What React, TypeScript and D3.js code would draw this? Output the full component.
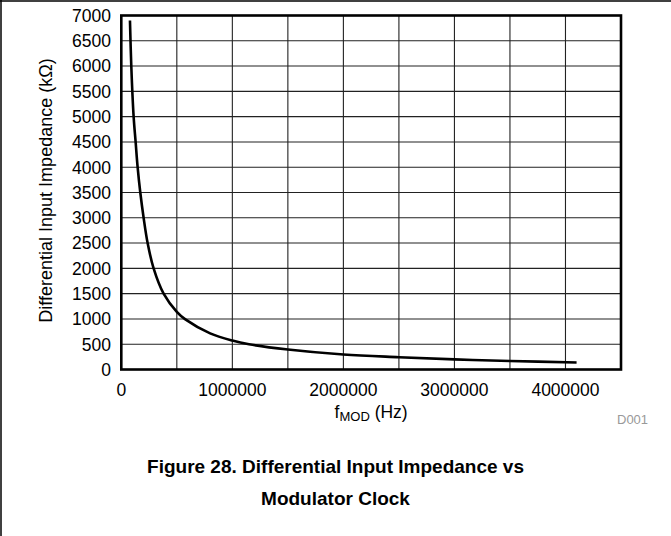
import React from "react";
import * as d3 from "d3";

const freqHz = [78000, 90000, 111000, 129000, 147000, 171000, 201000, 237000, 291000, 381000, 500000, 577000, 800000, 1000000, 1150000, 1500000, 2000000, 2500000, 3000000, 3500000, 4100000];
const impedanceK = [6900, 6000, 5000, 4500, 4000, 3500, 3000, 2500, 2000, 1500, 1140, 990, 715, 573, 500, 395, 296, 243, 200, 168, 138];
const xTickLabels = [0, 1000000, 2000000, 3000000, 4000000];
const yTicks = [0, 500, 1000, 1500, 2000, 2500, 3000, 3500, 4000, 4500, 5000, 5500, 6000, 6500, 7000];
const xGrid = [500000, 1000000, 1500000, 2000000, 2500000, 3000000, 3500000, 4000000];

const W = 671;
const H = 536;
const FONT = "'Liberation Sans', Arial, Helvetica, sans-serif";

export default function App() {
  const x = d3.scaleLinear().domain([0, 4500000]).range([121.3, 621]);
  const y = d3.scaleLinear().domain([0, 7000]).range([369.5, 15.5]);
  const pts = freqHz.map((f, i) => [f, impedanceK[i]] as [number, number]);
  const line = d3
    .line<[number, number]>()
    .x((d) => x(d[0]))
    .y((d) => y(d[1]))
    .curve(d3.curveCatmullRom.alpha(0.5));

  const [x0, x1] = x.range();
  const [y0, y1] = y.range();

  return (
    <svg
      width={W}
      height={H}
      style={{ position: "absolute", left: 0, top: 0, background: "#fff" }}
      fontFamily={FONT}
    >
      <rect x={0} y={0} width={W} height={H} fill="#fff" />
      {/* outer frame */}
      <line x1={0} y1={1} x2={W} y2={1} stroke="#000" strokeWidth={1.5} />
      <line x1={1} y1={0} x2={1} y2={H} stroke="#000" strokeWidth={1.5} />

      {/* grid */}
      {yTicks.slice(1, -1).map((v) => (
        <line key={"gy" + v} x1={x0} x2={x1} y1={y(v)} y2={y(v)} stroke="#222" strokeWidth={1.1} />
      ))}
      {xGrid.map((v) => (
        <line key={"gx" + v} x1={x(v)} x2={x(v)} y1={y1} y2={y0} stroke="#222" strokeWidth={1.1} />
      ))}

      {/* curve */}
      <path d={line(pts) || ""} fill="none" stroke="#000" strokeWidth={2.6} />

      {/* plot frame */}
      <rect x={x0} y={y1} width={x1 - x0} height={y0 - y1} fill="none" stroke="#000" strokeWidth={2.6} />

      {/* y ticks */}
      {yTicks.map((v) => (
        <text key={"yt" + v} x={111} y={y(v) + 6.4} textAnchor="end" fontSize={17.5} fill="#000">
          {v}
        </text>
      ))}
      {/* x ticks */}
      {xTickLabels.map((v) => (
        <text key={"xt" + v} x={x(v)} y={396} textAnchor="middle" fontSize={17.5} fill="#000">
          {v}
        </text>
      ))}

      {/* y title */}
      <text transform="translate(52,190.5) rotate(-90)" textAnchor="middle" fontSize={18} fill="#000">
        Differential Input Impedance (kΩ)
      </text>

      {/* x title */}
      <text x={(x0 + x1) / 2} y={418} textAnchor="middle" fontSize={17.5} fill="#000">
        f<tspan fontSize={13} dy={3}>MOD</tspan>
        <tspan dy={-3}> (Hz)</tspan>
      </text>

      <text x={617} y={424} fontSize={13} fill="#999">
        D001
      </text>

      {/* caption */}
      <text x={335.5} y={473} textAnchor="middle" fontSize={19} fontWeight="bold" fill="#000">
        Figure 28. Differential Input Impedance vs
      </text>
      <text x={335.5} y={505} textAnchor="middle" fontSize={19} fontWeight="bold" fill="#000">
        Modulator Clock
      </text>
    </svg>
  );
}
